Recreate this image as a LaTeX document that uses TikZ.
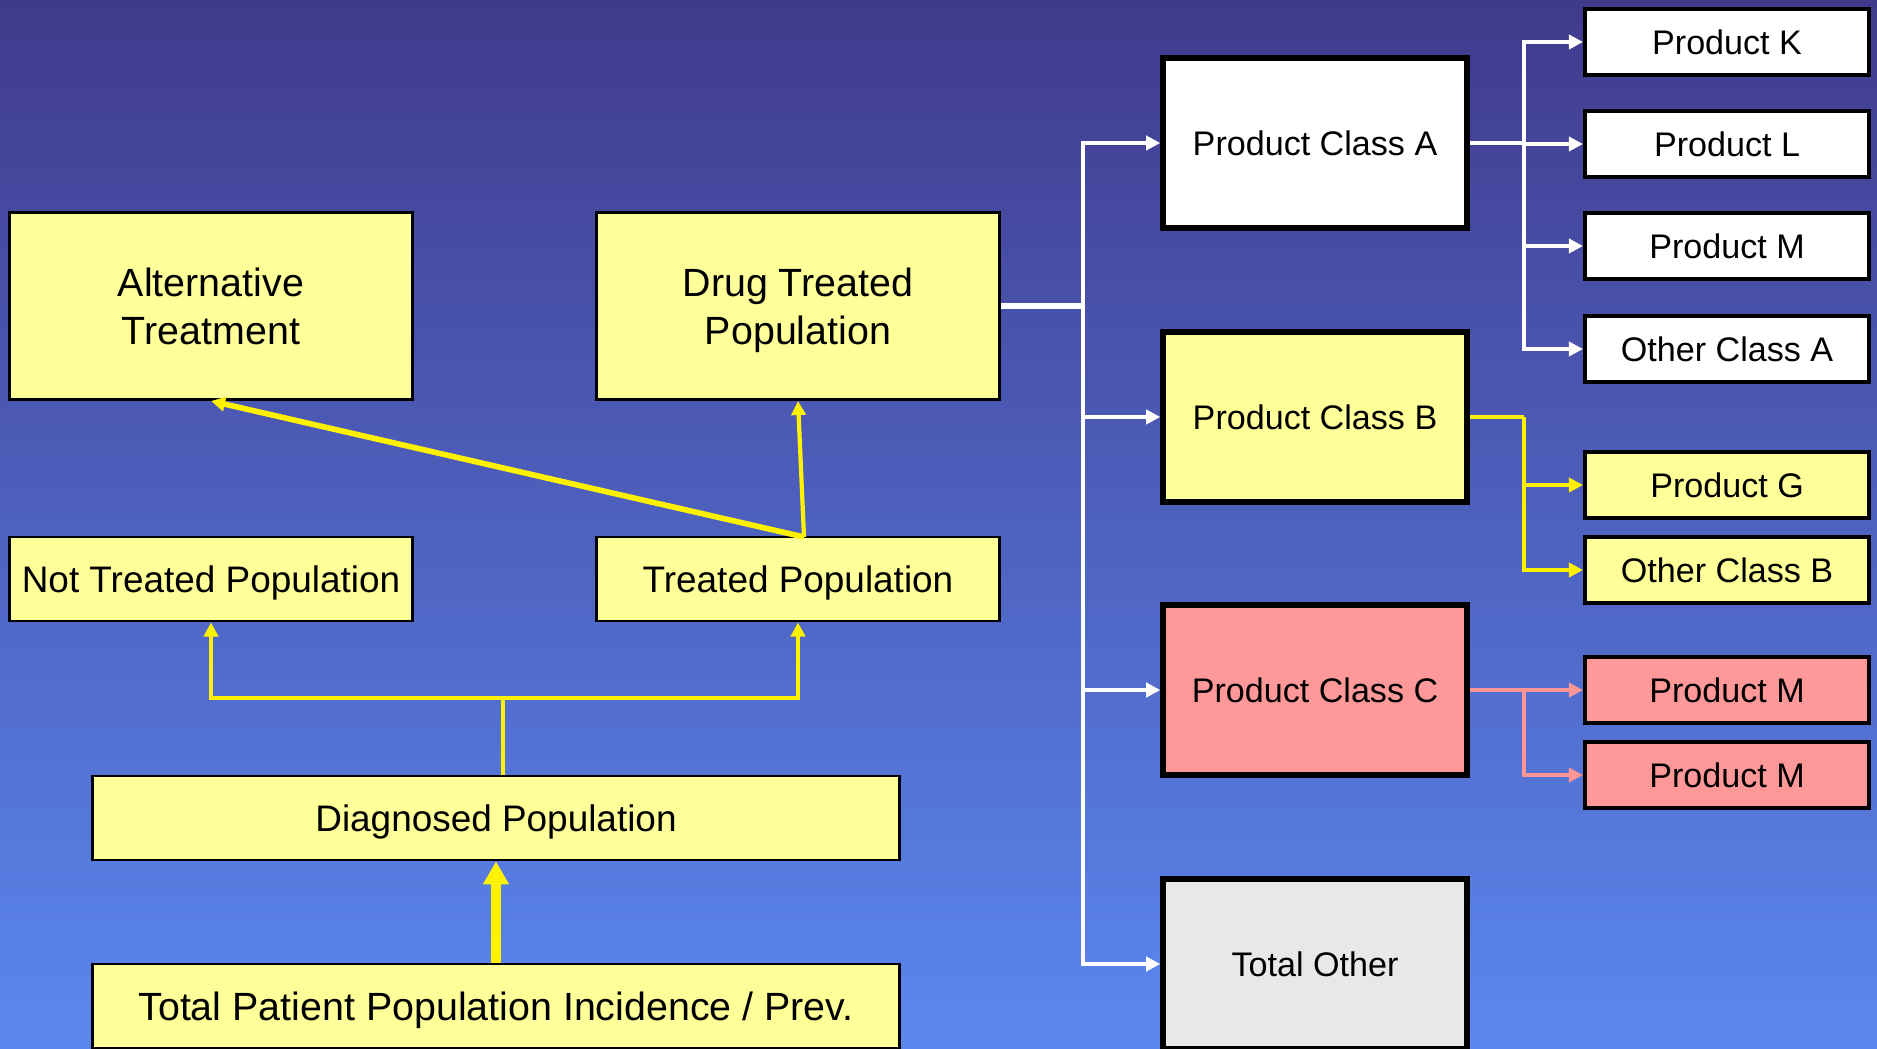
\documentclass[tikz,border=0pt]{standalone}
\usepackage{fontspec}
\setmainfont{Liberation Sans}
\usetikzlibrary{arrows.meta}

\definecolor{boxyellow}{RGB}{255,255,153}
\definecolor{boxpink}{RGB}{255,153,153}
\definecolor{boxgray}{RGB}{232,232,232}
\definecolor{linepink}{RGB}{255,150,150}
\definecolor{bgtop}{RGB}{64,58,140}
\definecolor{bgbottom}{RGB}{91,136,240}

\begin{document}
\begin{tikzpicture}[x=0.01cm, y=-0.01cm,
  popbox/.style={draw=black, line width=0.8pt, fill=boxyellow, align=center, inner sep=0pt},
  classbox/.style={draw=black, line width=1.5pt, minimum width=3.04cm, minimum height=1.70cm,
    inner sep=0pt, font=\fontsize{9.7}{11.6}\selectfont, text height=9.2pt, text depth=2.1pt},
  prodbox/.style={draw=black, line width=1.1pt, minimum width=2.84cm, minimum height=0.66cm,
    inner sep=0pt, font=\fontsize{9.7}{11.6}\selectfont, text height=9.2pt, text depth=2.1pt},
  bigtext/.style={font=\fontsize{11.2}{13.6}\selectfont, text height=10.8pt, text depth=2.4pt},
  twolines/.style={font=\fontsize{11.2}{13.6}\selectfont, text height=24.4pt, text depth=2.4pt},
  midtext/.style={font=\fontsize{10.5}{12.6}\selectfont, text height=10pt, text depth=2.2pt},
  ylink/.style={draw=yellow, line width=1.4pt},
  wlink/.style={draw=white, line width=1.1pt},
  plink/.style={draw=linepink, line width=0.9pt},
  ahead/.style={-{Triangle[length=4pt,width=4pt]}}
]
  % background
  \useasboundingbox (0,0) rectangle (1877,1048);
  \clip (0,0) rectangle (1877,1048);
  \shade[top color=bgtop, bottom color=bgbottom] (0,0) rectangle (1877,1048);

  % population boxes
  \node[popbox, twolines, minimum width=4.02cm, minimum height=1.87cm] (alt) at (211,306) {Alternative\\Treatment};
  \node[popbox, twolines, minimum width=4.02cm, minimum height=1.87cm] (drug) at (798,306) {Drug Treated\\Population};
  \node[popbox, midtext, minimum width=4.02cm, minimum height=0.84cm] (nottreat) at (211,579) {Not Treated Population};
  \node[popbox, midtext, minimum width=4.02cm, minimum height=0.84cm] (treat) at (798,579) {Treated Population};
  \node[popbox, midtext, minimum width=8.06cm, minimum height=0.84cm] (diag) at (496,818) {Diagnosed Population};
  \node[popbox, bigtext, minimum width=8.06cm, minimum height=0.84cm] (total) at (496,1006) {Total Patient Population Incidence / Prev.};

  % product classes
  \node[classbox, fill=white] (classA) at (1315,143) {Product Class A};
  \node[classbox, fill=boxyellow] (classB) at (1315,417) {Product Class B};
  \node[classbox, fill=boxpink] (classC) at (1315,690) {Product Class C};
  \node[classbox, fill=boxgray] (other) at (1315,964) {Total Other};

  % products
  \node[prodbox, fill=white] (prodK) at (1727,42) {Product K};
  \node[prodbox, fill=white] (prodL) at (1727,144) {Product L};
  \node[prodbox, fill=white] (prodM) at (1727,246) {Product M};
  \node[prodbox, fill=white] (otherA) at (1727,349) {Other Class A};
  \node[prodbox, fill=boxyellow] (prodG) at (1727,485) {Product G};
  \node[prodbox, fill=boxyellow] (otherB) at (1727,570) {Other Class B};
  \node[prodbox, fill=boxpink] (prodMa) at (1727,690) {Product M};
  \node[prodbox, fill=boxpink] (prodMb) at (1727,775) {Product M};

  % split points
  \coordinate (dsplit) at (503,698);
  \coordinate (tfork) at (804,537);
  \coordinate (wsplit) at (1083,306);
  \coordinate (asplit) at (1524,143);
  \coordinate (bsplit) at (1524,417);
  \coordinate (csplit) at (1524,690);

  % left tree
  \draw[ylink, line width=2.8pt, -{Triangle[length=6.5pt,width=7pt]}] (total.north) -- (diag.south);
  \draw[ylink] (diag.north -| dsplit) -- (dsplit);
  \draw[ylink, ahead] (dsplit) -| (nottreat.south);
  \draw[ylink, ahead] (dsplit) -| (treat.south);
  \draw[ylink, line width=1.2pt, ahead] (tfork) -- (drug.south);
  \draw[ylink, line width=1.6pt, ahead] (tfork) -- (alt.south);

  % white tree
  \draw[wlink, line width=1.6pt] (drug.east) -- (wsplit);
  \foreach \c in {classA,classB,classC,other}
    \draw[wlink, ahead] (wsplit) |- (\c.west);
  \draw[wlink] (classA.east) -- (asplit);
  \foreach \p in {prodK,prodL,prodM,otherA}
    \draw[wlink, ahead] (asplit) |- (\p.west);

  % yellow and pink branches
  \draw[ylink, line width=1.1pt] (classB.east) -- (bsplit);
  \foreach \p in {prodG,otherB}
    \draw[ylink, line width=1.1pt, ahead] (bsplit) |- (\p.west);
  \draw[plink, ahead] (classC.east) -- (prodMa.west);
  \draw[plink, ahead] (csplit) |- (prodMb.west);
\end{tikzpicture}
\end{document}
